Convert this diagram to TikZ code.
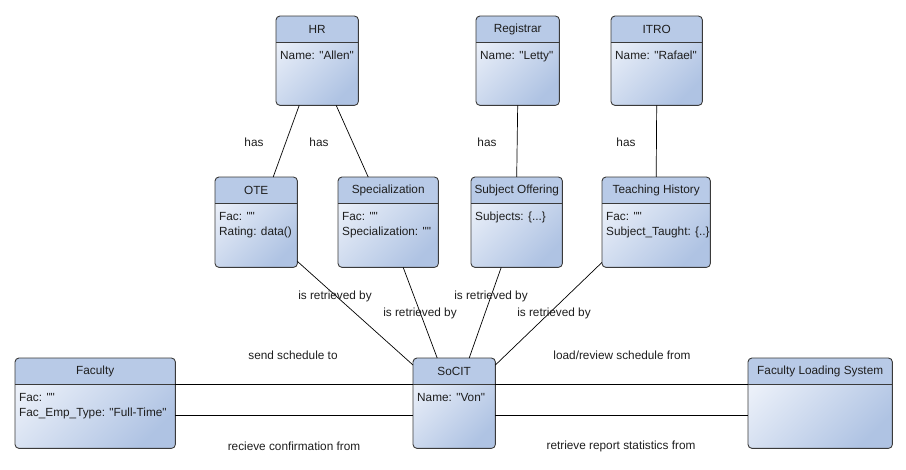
\documentclass[tikz,border=0pt]{standalone}
\usepackage{fontspec}
\setmainfont{Liberation Sans}[Ligatures=TeXOff]
\definecolor{bodylight}{HTML}{EBF0F9}
\definecolor{bodydark}{HTML}{AFC3E3}
\definecolor{hdrcol}{HTML}{B8CAE7}
\definecolor{bordcol}{HTML}{3A3A3A}
\definecolor{txtcol}{HTML}{1E1E1E}
\tikzset{
  cbox/.style={rectangle, rounded corners=4pt, inner sep=0pt, draw=none,
    top color=bodylight, bottom color=bodydark, shading angle=45},
  cborder/.style={draw=bordcol, line width=0.9pt, rounded corners=4pt},
  csep/.style={draw=bordcol, line width=0.8pt},
  ctitle/.style={font=\fontsize{11.8}{14}\selectfont, text=txtcol, inner sep=0pt},
  cattr/.style={font=\fontsize{11.8}{14}\selectfont, text=txtcol, inner sep=0pt, anchor=base west},
  conn/.style={draw=black, line width=0.7pt},
  lbl/.style={font=\fontsize{11.8}{14}\selectfont, text=txtcol, inner sep=0pt}
}
% #1 name, #2 x1, #3 y1, #4 x2, #5 y2, #6 title, #7 line 1, #8 line 2
\newcommand{\umlclass}[8]{%
  \node[cbox, minimum width=#4pt-#2pt, minimum height=#5pt-#3pt, anchor=north west] (#1) at (#2,#3) {};
  \begin{scope}
    \clip[rounded corners=4pt] (#1.north west) rectangle (#1.south east);
    \fill[hdrcol] (#1.north west) rectangle ([yshift=-26pt]#1.north east);
  \end{scope}
  \draw[cborder] (#1.north west) rectangle (#1.south east);
  \draw[csep] ([yshift=-26pt]#1.north west) -- ([yshift=-26pt]#1.north east);
  \node[ctitle] (#1-title) at ([yshift=-13.5pt]#1.north) {#6};
  \node[cattr] (#1-a1) at ([xshift=4pt,yshift=-43.5pt]#1.north west) {#7};
  \node[cattr] (#1-a2) at ([xshift=4pt,yshift=-58.5pt]#1.north west) {#8};
}
\begin{document}
\begin{tikzpicture}[x=1pt,y=-1pt]
\useasboundingbox (0,0) rectangle (906,470);
\fill[white] (0,0) rectangle (906,470);

\umlclass{hr}{276}{16}{358}{105}{HR}{Name: "Allen"}{}
\umlclass{reg}{476}{16}{559}{105}{Registrar}{Name: "Letty"}{}
\umlclass{itro}{611}{16}{702}{105}{ITRO}{Name: "Rafael"}{}
\umlclass{ote}{215}{177}{297}{267}{OTE}{Fac: ""}{Rating: data()}
\umlclass{spec}{338}{177}{438}{267}{Specialization}{Fac: ""}{Specialization: ""}
\umlclass{so}{471}{177}{562}{267}{Subject Offering}{Subjects: \{...\}}{}
\umlclass{th}{602}{177}{710}{267}{Teaching History}{Fac: ""}{Subject\_Taught: \{..\}}
\umlclass{fac}{15}{358}{175}{448}{Faculty}{Fac: ""}{Fac\_Emp\_Type: "Full-Time"}
\umlclass{soc}{413}{358}{495}{448}{SoCIT}{Name: "Von"}{}
\umlclass{fls}{748}{358}{892}{448}{Faculty Loading System}{}{}

% has connectors
\draw[conn] ([xshift=-18pt]hr.south) -- ([xshift=17pt]ote.north);
\draw[conn] ([xshift=19pt]hr.south) -- ([xshift=-20pt]spec.north);
\draw[conn] (reg.south) -- (so.north);
\draw[conn] (itro.south) -- (th.north);

% is retrieved by
\draw[conn] ([yshift=6pt]ote.south east) -- ([yshift=-7pt]soc.north west);
\draw[conn] ([xshift=15pt]spec.south) -- ([xshift=-17pt]soc.north);
\draw[conn] ([xshift=-15.5pt]so.south) -- ([xshift=15pt]soc.north);
\draw[conn] ([yshift=5pt]th.south west) -- ([yshift=-7pt]soc.north east);

% horizontal
\draw[conn] ([yshift=-26pt]fac.north east) -- ([yshift=-26pt]soc.north west);
\draw[conn] ([yshift=-57pt]fac.north east) -- ([yshift=-57pt]soc.north west);
\draw[conn] ([yshift=-26pt]soc.north east) -- ([yshift=-26pt]fls.north west);
\draw[conn] ([yshift=-57pt]soc.north east) -- ([yshift=-57pt]fls.north west);

% labels
\node[lbl] (l1) at (254,142) {has};
\node[lbl] (l2) at (319,142) {has};
\node[lbl] (l3) at (487,142) {has};
\node[lbl] (l4) at (626,142) {has};
\node[lbl] (l5) at (335,296) {is retrieved by};
\node[lbl] (l6) at (420,313) {is retrieved by};
\node[lbl] (l7) at (491,296) {is retrieved by};
\node[lbl] (l8) at (554,313) {is retrieved by};
\node[lbl] (l9) at (293,355) {send schedule to};
\node[lbl] (l10) at (622,355) {load/review schedule from};
\node[lbl] (l11) at (294,446) {recieve confirmation from};
\node[lbl] (l12) at (621,446) {retrieve report statistics from};
\end{tikzpicture}
\end{document}
